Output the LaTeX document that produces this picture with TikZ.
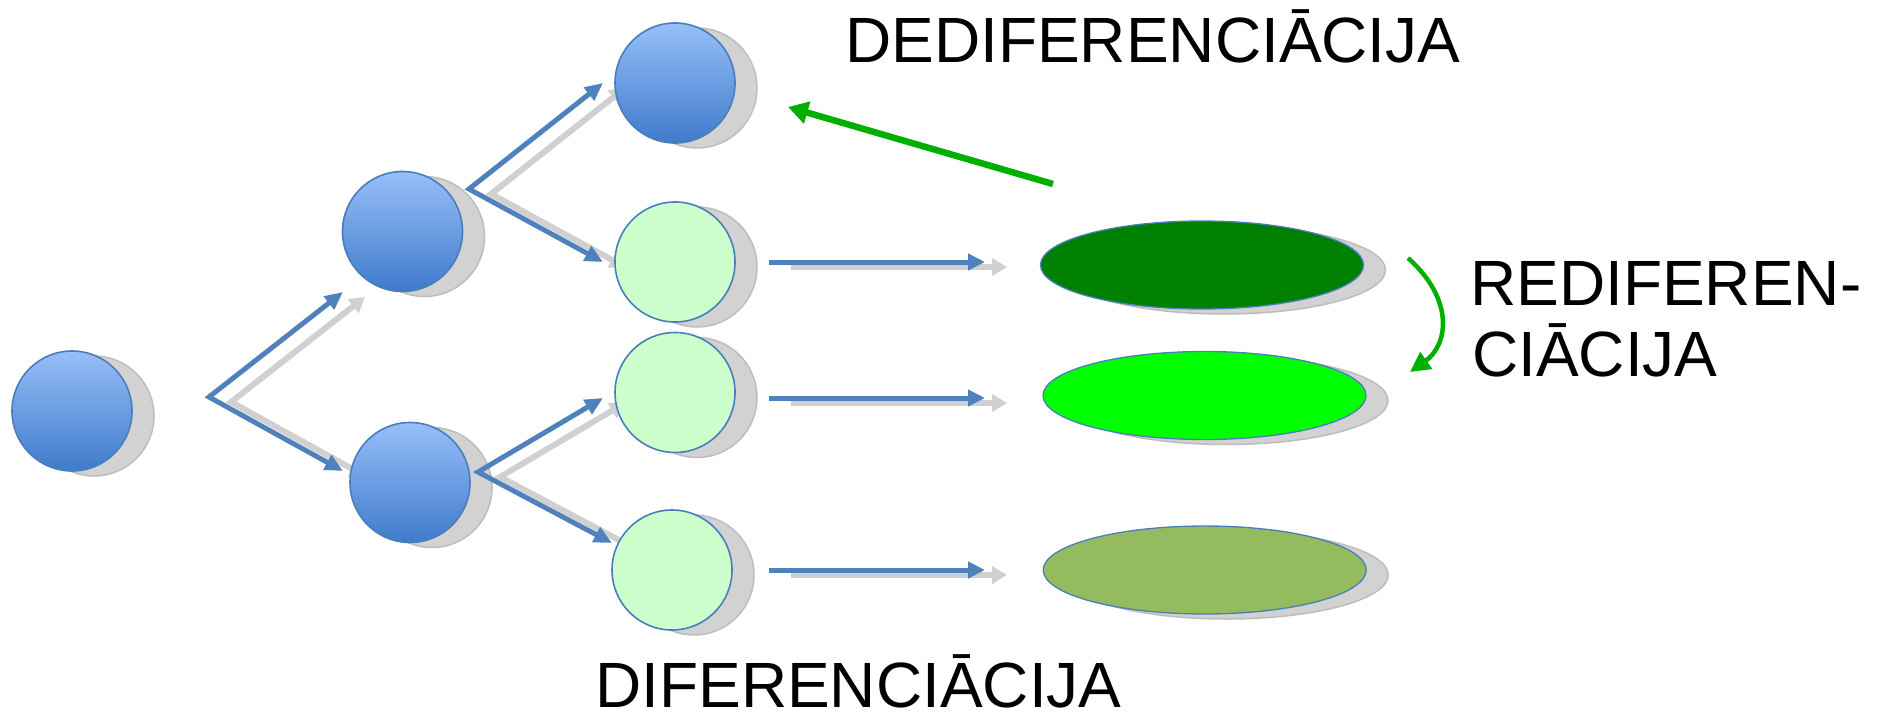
\documentclass[tikz,border=0pt]{standalone}
\usepackage{fontspec}
\setmainfont{Liberation Sans}
\usetikzlibrary{arrows.meta,shapes.geometric,shadows}
\definecolor{bluearrow}{HTML}{4F81BD}
\definecolor{outl}{HTML}{4A7EBB}
\definecolor{shad}{HTML}{D2D2D2}
\definecolor{shadline}{HTML}{BDBDBD}
\definecolor{grayarrow}{HTML}{D0D0D0}
\definecolor{celltop}{HTML}{97BFF9}
\definecolor{cellbot}{HTML}{3F7BCB}
\definecolor{pale}{HTML}{CCFFCC}
\definecolor{darkgr}{HTML}{008000}
\definecolor{brightgr}{HTML}{00FF00}
\definecolor{olivegr}{HTML}{94BC5E}
\definecolor{arrowgreen}{HTML}{00B000}
\begin{document}
\begin{tikzpicture}[x=1pt,y=-1pt,
  cellshadow/.style={general shadow={shadow xshift=22pt, shadow yshift=-5pt, fill=shad, draw=shadline, line width=1.5pt}},
  cellbase/.style={circle, minimum size=120pt, inner sep=0pt, draw=outl, line width=1.6pt, cellshadow},
  stemcell/.style={cellbase, top color=celltop, bottom color=cellbot},
  palecell/.style={cellbase, fill=pale},
  tissue/.style={ellipse, minimum width=323pt, minimum height=88pt, inner sep=0pt, draw=outl, line width=1.3pt, cellshadow},
  bluearr/.style={draw=bluearrow, line width=5pt, {Triangle[length=18pt,width=16pt]}-{Triangle[length=18pt,width=16pt]}},
  bluesingle/.style={draw=bluearrow, line width=5pt, -{Triangle[length=17pt,width=16pt]}},
  grayarr/.style={draw=grayarrow, line width=6pt, {Triangle[length=15pt,width=17pt]}-{Triangle[length=15pt,width=17pt]}, transform canvas={shift={(22pt,-5pt)}}},
  graysingle/.style={draw=grayarrow, line width=6pt, -{Triangle[length=15pt,width=17pt]}, transform canvas={shift={(22pt,-5pt)}}},
  greenarr/.style={draw=arrowgreen, line width=6.5pt, -{Triangle[length=20pt,width=22pt]}},
  greencurve/.style={draw=arrowgreen, line width=4.5pt, -{Triangle[length=20pt,width=20pt]}},
  lbl/.style={font=\fontsize{64}{71}\selectfont, inner sep=0pt, text=black, anchor=base west}]
\useasboundingbox (0,0) rectangle (1884,714);
% fork and arrow coordinates
\coordinate (f1) at (209,397);
\coordinate (f1u) at (343,292);
\coordinate (f1d) at (343,471);
\coordinate (f2) at (469,189);
\coordinate (f2u) at (603,83);
\coordinate (f2d) at (603,262);
\coordinate (f3) at (478,472);
\coordinate (f3u) at (603,398);
\coordinate (f3d) at (612,543);
\coordinate (hE) at (769,262);
\coordinate (hEt) at (985,262);
\coordinate (hF) at (769,398);
\coordinate (hFt) at (985,398);
\coordinate (hG) at (769,570);
\coordinate (hGt) at (985,570);
% gray shadow arrows
\draw[grayarr] (f1u) -- (f1) -- (f1d);
\draw[grayarr] (f2u) -- (f2) -- (f2d);
\draw[grayarr] (f3u) -- (f3) -- (f3d);
\draw[graysingle] (hE) -- (hEt);
\draw[graysingle] (hF) -- (hFt);
\draw[graysingle] (hG) -- (hGt);
% cells
\node[stemcell] (A) at (72,411) {};
\node[stemcell] (B) at (402.5,231.5) {};
\node[stemcell] (C) at (410,482.5) {};
\node[stemcell] (D) at (675,83) {};
\node[palecell] (E) at (675,262) {};
\node[palecell] (F) at (675,392.5) {};
\node[palecell] (G) at (672,570) {};
% tissues
\node[tissue, fill=darkgr] (T1) at (1202,265) {};
\node[tissue, fill=brightgr] (T2) at (1204.5,395.5) {};
\node[tissue, fill=olivegr] (T3) at (1204.7,570) {};
% blue arrows
\draw[bluearr] (f1u) -- (f1) -- (f1d);
\draw[bluearr] (f2u) -- (f2) -- (f2d);
\draw[bluearr] (f3u) -- (f3) -- (f3d);
\draw[bluesingle] (hE) -- (hEt);
\draw[bluesingle] (hF) -- (hFt);
\draw[bluesingle] (hG) -- (hGt);
% green arrows
\coordinate (dedS) at (1053,184);
\coordinate (dedT) at (788,107);
\draw[greenarr] (dedS) -- (dedT);
\coordinate (redS) at (1408,258);
\coordinate (redT) at (1410,372);
\draw[greencurve] (redS) .. controls (1455,300) and (1448,345) .. (redT);
% labels
\node[lbl] (dediff) at (845,62.7) {DEDIFERENCIĀCIJA};
\node[lbl] (rediff1) at (1470,305) {REDIFEREN-};
\node[lbl] (rediff2) at (1472,376) {CIĀCIJA};
\node[lbl] (diff) at (595,707) {DIFERENCIĀCIJA};
\end{tikzpicture}
\end{document}
